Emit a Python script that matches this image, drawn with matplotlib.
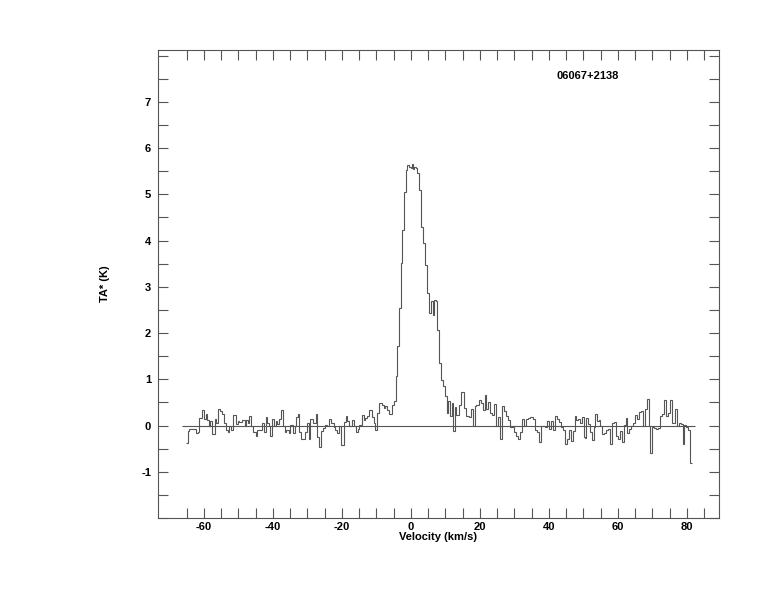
import numpy as np
import matplotlib
matplotlib.use('Agg')
import matplotlib.pyplot as plt

plt.rcParams['font.family'] = ['Liberation Sans', 'DejaVu Sans']
plt.rcParams['font.weight'] = 'bold'
plt.rcParams['axes.unicode_minus'] = False  # plain hyphens like the original

# ==========================
# Spectrum data
# ==========================
source_name = '06067+2138'

# left edge of every channel step (km/s)
vel_left = [
    # -65 .. -29
    -65.1, -64.7, -64.2, -62.4, -61.7, -61.3, -60.5, -60.1, -59.5, -59.1,
    -58.6, -58.2, -57.6, -56.9, -56.4, -56.0, -55.3, -54.7, -54.3, -53.5,
    -53.0, -52.6, -52.1, -51.6, -50.8, -50.2, -49.7, -48.9, -48.2, -47.7,
    -47.3, -46.8, -46.3, -45.8, -45.0, -44.5, -43.9, -43.1, -42.5, -42.1,
    -41.8, -41.2, -40.8, -40.2, -39.8, -39.2, -38.9, -38.1, -37.6, -37.1,
    -36.6, -36.1, -35.4, -35.0, -34.2, -33.7, -33.3, -32.8, -32.3, -31.8,
    -30.8, -30.2, -29.6, -29.1,
    # -28 .. -5
    -28.4, -27.4, -27.1, -26.5, -26.1, -25.5, -24.9, -24.4, -23.8, -23.1,
    -22.4, -22.0, -21.5, -20.9, -20.2, -19.5, -18.9, -18.4, -17.8, -17.2,
    -16.6, -16.0, -15.4, -14.9, -14.3, -13.7, -13.2, -12.6, -12.0, -11.4,
    -10.8, -10.3, -9.7, -9.1, -8.5, -7.9, -7.4, -6.8, -6.2, -5.6,
    -5.0,
    # line
    -4.35, -3.97, -3.48, -3.00, -2.52, -2.03, -1.45, -1.07, -0.49, -0.10,
    0.28, 0.66, 1.05, 1.44, 1.82, 2.41, 3.08, 3.57, 4.15, 4.73,
    5.31, 5.69, 6.27, 6.66, 7.24, 7.63, 8.20, 8.78, 9.36, 9.94,
    10.33, 10.81, 11.30, 11.78, 12.07,
    # 12 .. 47
    12.66, 13.14, 13.92, 14.59, 15.27, 16.04, 16.81, 17.49, 17.97, 18.46,
    18.94, 19.71, 20.39, 20.87, 21.36, 21.84, 22.42, 23.00, 23.58, 24.16,
    24.74, 25.22, 25.90, 26.47, 27.05, 27.63, 28.21, 28.79, 29.95, 30.53,
    31.11, 31.69, 32.27, 32.85, 33.43, 34.01, 34.59, 35.36, 35.94, 36.52,
    37.10, 37.68, 38.26, 38.84, 39.42, 40.00, 40.58, 41.16, 41.74, 42.32,
    42.90, 43.48, 44.06, 44.64, 45.22, 45.79, 46.37,
    # 47 .. 81
    46.96, 47.44, 47.93, 48.51, 49.09, 49.47, 50.05, 50.44, 50.82, 51.40,
    51.98, 52.56, 52.95, 53.34, 53.92, 54.49, 54.88, 55.46, 55.85, 56.43,
    57.01, 57.59, 58.17, 58.75, 59.32, 59.90, 60.48, 61.06, 61.64, 62.22,
    62.61, 63.19, 63.77, 64.35, 64.93, 65.51, 66.09, 66.67, 67.25, 67.83,
    68.41, 68.98, 69.37, 69.95, 70.53, 71.11, 71.69, 72.27, 72.85, 73.43,
    73.81, 74.39, 74.97, 75.55, 75.94, 76.52, 77.10, 77.68, 78.26, 78.84,
    79.22, 79.80, 80.38, 80.77,
]
vel_last_edge = 81.35

# antenna temperature TA* (K) per channel
ta_k = [
    -0.37, -0.12, -0.07, -0.17, -0.14, 0.17, 0.33, 0.14, 0.24, 0.12,
    -0.01, 0.09, -0.19, 0.14, 0.06, 0.36, 0.31, 0.24, 0.06, -0.09,
    -0.14, -0.01, -0.09, 0.22, 0.04, 0.09, 0.07, 0.12, 0.00, 0.12,
    0.06, 0.20, 0.00, -0.14, -0.22, -0.10, -0.09, 0.06, -0.14, 0.19,
    0.06, -0.01, -0.23, 0.13, 0.00, 0.09, 0.04, 0.14, 0.33, 0.00,
    -0.14, -0.10, -0.17, 0.02, -0.16, -0.01, 0.19, 0.25, -0.14, -0.30,
    -0.14, 0.06, -0.30, 0.13,
    0.06, 0.24, -0.24, -0.46, -0.12, -0.05, 0.02, 0.00, 0.14, 0.06,
    -0.03, -0.10, -0.16, -0.01, -0.43, 0.07, 0.20, 0.09, 0.00, 0.12,
    0.00, -0.14, -0.07, 0.02, 0.22, 0.12, 0.17, 0.20, 0.33, 0.19,
    0.06, -0.09, 0.26, 0.49, 0.45, 0.38, 0.43, 0.33, 0.24, 0.45,
    0.53,
    1.07, 1.71, 2.55, 3.52, 4.23, 5.06, 5.53, 5.64, 5.60, 5.57,
    5.66, 5.55, 5.60, 5.57, 5.46, 5.10, 4.30, 3.95, 3.48, 2.87,
    2.44, 2.69, 2.40, 2.72, 2.69, 2.07, 1.35, 0.99, 0.85, 0.63,
    0.28, 0.52, 0.20, 0.49, -0.12,
    0.40, 0.22, 0.45, 0.72, 0.38, 0.20, 0.19, 0.35, 0.00, 0.42,
    0.45, 0.56, 0.49, 0.33, 0.65, 0.35, 0.50, 0.27, 0.22, 0.47,
    0.00, 0.19, -0.29, 0.43, 0.31, 0.20, 0.12, -0.03, -0.14, -0.23,
    -0.30, -0.14, 0.13, 0.00, 0.14, 0.17, 0.19, 0.13, -0.09, -0.14,
    -0.36, 0.00, -0.01, -0.03, 0.09, -0.07, 0.09, -0.09, 0.20, 0.14,
    0.07, -0.03, -0.09, -0.39, -0.30, -0.09, -0.34,
    -0.12, 0.20, 0.12, 0.14, 0.06, 0.19, -0.24, -0.27, 0.17, 0.04,
    -0.14, -0.32, -0.03, 0.24, 0.09, 0.12, -0.01, -0.19, -0.17, -0.09,
    -0.07, -0.41, 0.06, 0.07, -0.23, -0.29, -0.12, -0.36, 0.02, 0.17,
    -0.16, -0.07, -0.01, 0.06, 0.22, 0.14, 0.29, 0.31, 0.00, 0.35,
    0.58, 0.00, -0.59, -0.03, -0.05, -0.07, -0.05, 0.20, 0.24, 0.56,
    0.20, 0.27, 0.56, 0.06, 0.06, 0.36, -0.01, 0.06, 0.04, -0.41,
    0.02, -0.03, -0.10, -0.82,
]

# baseline drawn under the spectrum
baseline_span = (-66.3, 82.3)

x_major = [-60, -40, -20, 0, 20, 40, 60, 80]
x_minor = np.arange(-65, 86, 5)
y_major = [-1, 0, 1, 2, 3, 4, 5, 6, 7]
y_minor = np.arange(-2, 8.01, 0.5)

assert len(vel_left) == len(ta_k)
edges = np.append(vel_left, vel_last_edge)

# ==========================
# Plot
# ==========================
line_col = '#555555'

fig = plt.figure(figsize=(7.74, 6.12), dpi=100)
ax = fig.add_axes([0.2041, 0.1536, 0.7248, 0.7647])

ax.stairs(ta_k, edges, baseline=None, color=line_col, lw=0.8)
ax.hlines(0, baseline_span[0], baseline_span[1], color=line_col, lw=0.8)

ax.set_xlim(-73.3, 89.3)
ax.set_ylim(-2.0, 8.12)

ax.set_xticks(x_major)
ax.set_xticks(x_minor, minor=True)
ax.set_yticks(y_major)
ax.set_yticks(y_minor, minor=True)
ax.tick_params(which='both', direction='in', length=7, width=0.8,
               color=line_col, top=True, right=True, labelsize=8)
ax.tick_params(axis='x', pad=3)
ax.tick_params(axis='y', pad=5)
for sp in ax.spines.values():
    sp.set_color(line_col)
    sp.set_linewidth(0.8)

ax.set_xlabel('Velocity (km/s)', fontsize=8, fontweight='bold')
ax.xaxis.set_label_coords(0.50, -0.029)
ax.set_ylabel('TA* (K)', fontsize=8, fontweight='bold')
ax.yaxis.set_label_coords(-0.085, 0.5)

ax.text(0.766, 0.944, source_name, transform=ax.transAxes,
        ha='center', va='center', fontsize=8, fontweight='bold')

fig.savefig('out.png', dpi=100)
